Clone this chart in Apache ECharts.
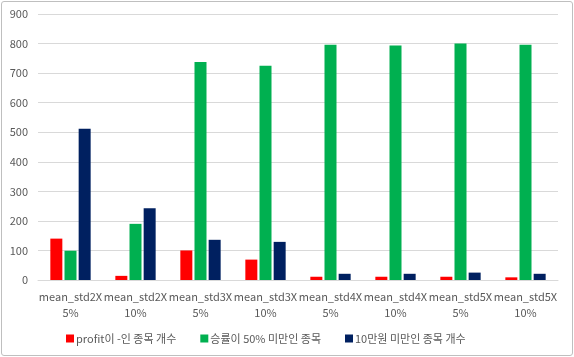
<!DOCTYPE html>
<html><head><meta charset="utf-8">
<script src="https://cdn.jsdelivr.net/npm/echarts@6/dist/echarts.min.js"></script>
<style>
html,body{margin:0;padding:0;background:#fff;}
#frame{position:absolute;left:1px;top:1px;width:570px;height:353px;border:1px solid #bfbfbf;border-radius:3px;}
#c{position:absolute;left:0;top:0;width:574px;height:357px;}
</style></head>
<body><div id="frame"></div><div id="c"></div>
<script>
const categories = ['mean_std2X\n5%','mean_std2X\n10%','mean_std3X\n5%','mean_std3X\n10%','mean_std4X\n5%','mean_std4X\n10%','mean_std5X\n5%','mean_std5X\n10%'];
const seriesNames = ['profit이 -인 종목 개수','승률이 50% 미만인 종목','10만원 미만인 종목 개수'];
const profitNeg = [140, 14, 100, 69, 11, 11, 11, 9];
const winRateLow = [99, 190, 738, 725, 796, 793, 800, 796];
const under100k = [512, 243, 136, 129, 21, 21, 25, 21];
const colors = ['#ff0000','#00b050','#002060'];
const font = '"Noto Sans CJK KR", "Noto Sans", sans-serif';
const chart = echarts.init(document.getElementById('c'));
const data = [profitNeg, winRateLow, under100k];
chart.setOption({
  animation:false,
  textStyle:{fontFamily:font},
  grid:{left:38,right:16,top:14,bottom:77},
  legend:{bottom:8,left:61,itemWidth:8,itemHeight:8,itemGap:24,icon:'rect',
    textStyle:{color:'#595959',fontSize:11,fontFamily:font,padding:[0,0,0,-3]},
    data:seriesNames},
  xAxis:{type:'category',data:categories,
    axisLine:{lineStyle:{color:'#d9d9d9'}},axisTick:{show:false},
    axisLabel:{color:'#595959',fontSize:11,interval:0,lineHeight:16,margin:9,fontFamily:font}},
  yAxis:{type:'value',min:0,max:900,interval:100,
    axisLine:{show:false},axisTick:{show:false},
    splitLine:{lineStyle:{color:'#d9d9d9'}},
    axisLabel:{color:'#595959',fontSize:11,margin:10,fontFamily:font}},
  series:seriesNames.map((n,i)=>({name:n,type:'bar',data:data[i],barWidth:12,barGap:'18%',
    itemStyle:{color:colors[i]}}))
});
</script></body></html>
